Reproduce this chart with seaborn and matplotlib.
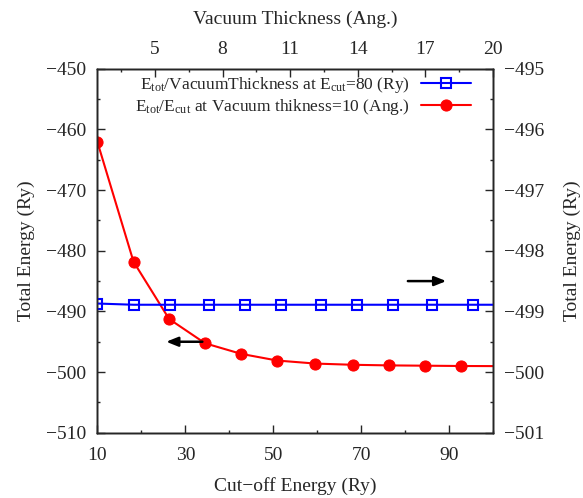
import matplotlib
matplotlib.use("Agg")
import matplotlib.pyplot as plt
import seaborn as sns
from matplotlib.ticker import MultipleLocator

# Red series: total energy vs cut-off energy (bottom / left axes)
# last point lies just past the axis edge, only its line segment shows
ecut = [10, 18.2, 26.3, 34.5, 42.7, 50.9, 59.6, 68.1, 76.3, 84.5, 92.7, 101.3]
etot_ecut = [-462.1, -481.8, -491.25, -495.26, -497.0, -498.1,
             -498.6, -498.8, -498.9, -498.95, -499.0, -499.02]

# Blue series: total energy vs vacuum thickness (top / right axes)
vacuum = [2.45, 4.05, 5.65, 7.4, 9.0, 10.6, 12.35, 13.95, 15.55, 17.3, 19.1, 20.7]
etot_vac = [-498.87, -498.89, -498.89, -498.89, -498.89, -498.89,
            -498.89, -498.89, -498.89, -498.89, -498.89, -498.89]

bottom_ticks = [10, 30, 50, 70, 90]
top_ticks = [5, 8, 11, 14, 17, 20]
top_minor = [3.5, 6.5, 9.5, 12.5, 15.5, 18.5]
left_ticks = [-450, -460, -470, -480, -490, -500, -510]
right_ticks = [-495, -496, -497, -498, -499, -500, -501]

label_vac = r"E$_{\rm tot}$/VacuumThickness at E$_{\rm cut}$=80 (Ry)"
label_ecut = r"E$_{\rm tot}$/E$_{\rm cut}$ at Vacuum thikness=10 (Ang.)"

sns.set_style("ticks")
plt.rcParams["font.family"] = ["Liberation Serif", "DejaVu Serif"]
plt.rcParams["mathtext.fontset"] = "custom"
plt.rcParams["mathtext.rm"] = "Liberation Serif"
plt.rcParams["mathtext.it"] = "Liberation Serif:italic"
plt.rcParams["font.size"] = 14
plt.rcParams["axes.linewidth"] = 1.0

fig = plt.figure(figsize=(5.83, 4.98), dpi=100)
ax = fig.add_axes([0.1672, 0.1311, 0.6784, 0.7307])
ax2 = ax.twinx()
ax3 = ax2.twiny()

sns.lineplot(x=ecut, y=etot_ecut, ax=ax, color="#ff0000", linewidth=1.5,
             marker="o", markersize=8, markeredgecolor="#ff0000",
             markerfacecolor="#ff0000", label=label_ecut, legend=False)
sns.lineplot(x=vacuum, y=etot_vac, ax=ax3, color="#0000ff", linewidth=1.5,
             marker="s", markersize=7, markeredgecolor="#0000ff",
             markerfacecolor="none", markeredgewidth=1.5, label=label_vac,
             legend=False)

ax.set_xlim(10, 100)
ax.set_ylim(-510, -450)
ax2.set_ylim(-501, -495)
ax3.set_xlim(2.45, 20)

ax.set_xticks(bottom_ticks)
ax.xaxis.set_minor_locator(MultipleLocator(10))
ax.set_yticks(left_ticks)
ax.yaxis.set_minor_locator(MultipleLocator(5))
ax2.set_yticks(right_ticks)
ax2.yaxis.set_minor_locator(MultipleLocator(0.5))
ax3.set_xticks(top_ticks)
ax3.set_xticks(top_minor, minor=True)

for a in (ax, ax2, ax3):
    a.tick_params(which="major", direction="in", length=5.5, width=1.0,
                  pad=8, labelsize=14)
    a.tick_params(which="minor", direction="in", length=2.5, width=1.0)
ax.tick_params(which="both", top=False, right=False)
ax.tick_params(axis="x", which="major", pad=10)

ax.set_xlabel("Cut\u2212off Energy (Ry)", fontsize=14, labelpad=10)
ax.set_ylabel("Total Energy (Ry)", fontsize=14, labelpad=8)
ax2.set_ylabel("Total Energy (Ry)", fontsize=14, labelpad=14)
ax3.set_xlabel("Vacuum Thickness (Ang.)", fontsize=14, labelpad=12)
ax3.set_ylabel("")

# arrows pointing to the axis each curve belongs to
ax.annotate("", xy=(25, -495), xytext=(34.5, -495),
            arrowprops=dict(arrowstyle="-|>,head_length=0.5,head_width=0.2",
                            color="black", lw=1.8))
ax.annotate("", xy=(90, -485), xytext=(80, -485),
            arrowprops=dict(arrowstyle="-|>,head_length=0.5,head_width=0.2",
                            color="black", lw=1.8))

handles = [ax3.lines[0], ax.lines[0]]
ax3.legend(handles=handles, labels=[label_vac, label_ecut], loc="upper right",
           bbox_to_anchor=(0.9436, 0.982), frameon=False, markerfirst=False,
           handlelength=2.86, handletextpad=0.62, borderpad=0,
           borderaxespad=0, labelspacing=0.1, fontsize=12.5)

fig.savefig("out.png", dpi=100)
